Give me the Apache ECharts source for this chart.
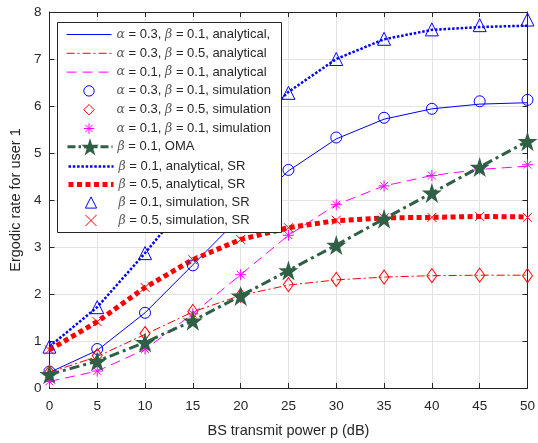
<!DOCTYPE html>
<html>
<head>
<meta charset="utf-8">
<script src="https://cdn.jsdelivr.net/npm/echarts@6/dist/echarts.min.js"></script>
<style>
  html, body { margin: 0; padding: 0; background: #fff; }
  #chart { width: 538px; height: 443px; }
</style>
</head>
<body>
<div id="chart"></div>
<script>
// x axis: BS transmit power (dB)
const powerDb = [0, 5, 10, 15, 20, 25, 30, 35, 40, 45, 50];

// alpha = 0.3, beta = 0.1
const a3b1Analytical = [0.33, 0.80, 1.60, 2.62, 3.65, 4.62, 5.30, 5.72, 5.94, 6.04, 6.07];
const a3b1Simulation = [0.35, 0.83, 1.60, 2.61, 3.66, 4.64, 5.33, 5.75, 5.94, 6.10, 6.13];
// alpha = 0.3, beta = 0.5
const a3b5Analytical = [0.33, 0.67, 1.14, 1.62, 1.97, 2.19, 2.30, 2.36, 2.39, 2.40, 2.40];
const a3b5Simulation = [0.33, 0.69, 1.16, 1.63, 1.97, 2.20, 2.31, 2.36, 2.39, 2.40, 2.39];
// alpha = 0.1, beta = 0.1
const a1b1Analytical = [0.14, 0.36, 0.82, 1.58, 2.41, 3.25, 3.90, 4.30, 4.52, 4.65, 4.72];
const a1b1Simulation = [0.14, 0.36, 0.83, 1.58, 2.41, 3.25, 3.90, 4.30, 4.52, 4.66, 4.75];
// OMA, beta = 0.1
const omaValues = [0.29, 0.57, 0.97, 1.43, 1.96, 2.50, 3.04, 3.60, 4.15, 4.70, 5.25];
// SR
const srB1Analytical = [0.88, 1.72, 2.87, 4.10, 5.30, 6.30, 7.00, 7.42, 7.62, 7.68, 7.71];
const srB1Simulation = [0.88, 1.72, 2.87, 4.10, 5.30, 6.28, 7.00, 7.43, 7.63, 7.72, 7.84];
const srB5Analytical = [0.81, 1.41, 2.14, 2.73, 3.16, 3.41, 3.56, 3.62, 3.63, 3.65, 3.64];
const srB5Simulation = [0.81, 1.41, 2.14, 2.73, 3.16, 3.41, 3.57, 3.62, 3.63, 3.65, 3.63];

const yTicks = [0, 1, 2, 3, 4, 5, 6, 7, 8];

const names = [
  'α = 0.3, β = 0.1, analytical,',
  'α = 0.3, β = 0.5, analytical',
  'α = 0.1, β = 0.1, analytical',
  'α = 0.3, β = 0.1, simulation',
  'α = 0.3, β = 0.5, simulation',
  'α = 0.1, β = 0.1, simulation',
  'β = 0.1, OMA',
  'β = 0.1, analytical, SR',
  'β = 0.5, analytical, SR',
  'β = 0.1, simulation, SR',
  'β = 0.5, simulation, SR'
];

const FONT = 'Liberation Sans';
const AXIS_COLOR = '#262626';

const starPath = 'path://M0,-1L0.2245,-0.309L0.951,-0.309L0.363,0.118L0.588,0.809L0,0.382L-0.588,0.809L-0.363,0.118L-0.951,-0.309L-0.2245,-0.309Z';
const asteriskPath = 'path://M0,-1L0,1M-1,0L1,0M-0.7,-0.7L0.7,0.7M-0.7,0.7L0.7,-0.7';
const crossPath = 'path://M-1,-1L1,1M-1,1L1,-1';

function pairs(values) {
  return powerDb.map((x, i) => [x, values[i]]);
}

// legend look for each entry, keyed by name
const legendLook = {};

function lineSeries(name, values, color, width, dash) {
  legendLook[name] = {
    itemStyle: { opacity: 0 },
    lineStyle: { color: color, width: width, type: dash }
  };
  return {
    name: name,
    type: 'line',
    data: pairs(values),
    symbol: 'none',
    lineStyle: { color: color, width: width, type: dash },
    itemStyle: { color: color },
    z: 2
  };
}

// markers only: a line series with an invisible line, so the legend icon is a small symbol
function markerSeries(name, values, color, symbol, size) {
  legendLook[name] = {
    itemStyle: { color: 'transparent', borderColor: color, borderWidth: 1 },
    lineStyle: { width: 0, opacity: 0 }
  };
  return {
    name: name,
    type: 'line',
    data: pairs(values),
    symbol: symbol,
    symbolSize: size,
    showSymbol: true,
    lineStyle: { width: 0, opacity: 0 },
    itemStyle: { color: 'transparent', borderColor: color, borderWidth: 1 },
    z: 3
  };
}

const series = [
  lineSeries(names[0], a3b1Analytical, '#0000ff', 1, 'solid'),
  lineSeries(names[1], a3b5Analytical, '#ff0000', 1, [8, 3, 2, 3]),
  lineSeries(names[2], a1b1Analytical, '#ff00ff', 1, [10, 6]),
  markerSeries(names[3], a3b1Simulation, '#0000ff', 'circle', 11),
  markerSeries(names[4], a3b5Simulation, '#ff0000', 'diamond', [10, 14]),
  markerSeries(names[5], a1b1Simulation, '#ff00ff', asteriskPath, 11),
  {
    name: names[6],
    type: 'line',
    data: pairs(omaValues),
    symbol: starPath,
    symbolSize: 20,
    showSymbol: true,
    lineStyle: { color: '#2f5f45', width: 3, type: [10, 4, 3, 4] },
    itemStyle: { color: '#2f5f45', borderWidth: 0 },
    z: 4
  },
  lineSeries(names[7], srB1Analytical, '#0000ff', 2.5, [2.5, 1.8]),
  lineSeries(names[8], srB5Analytical, '#ff0000', 5, [5, 3.5]),
  markerSeries(names[9], srB1Simulation, '#0000ff', 'triangle', 13),
  markerSeries(names[10], srB5Simulation, '#ff0000', crossPath, 9)
];
legendLook[names[6]] = {
  itemStyle: { color: '#2f5f45', borderWidth: 0 },
  lineStyle: { color: '#2f5f45', width: 3, type: [8, 3, 2.5, 3] }
};

const legendText = {
  color: AXIS_COLOR,
  fontFamily: FONT,
  fontSize: 13,
  rich: {
    g: { fontFamily: 'DejaVu Serif', fontStyle: 'italic', fontSize: 12.5, color: '#5a5a5a' }
  }
};

function legendBlock(list, top, itemHeight, itemGap) {
  return {
    data: list.map(n => Object.assign({ name: n }, legendLook[n])),
    orient: 'vertical',
    left: 57,
    top: top,
    padding: [0, 0, 0, 9],
    itemWidth: 45,
    itemHeight: itemHeight,
    itemGap: itemGap,
    selectedMode: false,
    z: 10,
    textStyle: legendText,
    formatter: name => name.replace(/([αβ])/g, '{g|$1}')
  };
}

const chart = echarts.init(document.getElementById('chart'), null, { renderer: 'canvas' });

chart.setOption({
  backgroundColor: '#ffffff',
  animation: false,
  textStyle: { fontFamily: FONT },
  grid: { left: 46, right: 8, top: 12, bottom: 49, containLabel: false },
  graphic: [{
    type: 'rect',
    left: 57,
    top: 22,
    z: 9,
    shape: { width: 224, height: 210 },
    style: { fill: '#ffffff', stroke: AXIS_COLOR, lineWidth: 1 }
  }],
  legend: [
    legendBlock(names.slice(0, 6), 28, 13, 5.8),
    legendBlock(names.slice(6, 7), 138, 22, 0),
    legendBlock(names.slice(7), 160, 14, 5.0)
  ],
  xAxis: [
    {
      type: 'value',
      min: 0,
      max: 50,
      interval: 5,
      name: 'BS transmit power p (dB)',
      nameLocation: 'middle',
      nameGap: 35,
      nameTextStyle: { color: AXIS_COLOR, fontSize: 14.5, fontFamily: FONT },
      axisLine: { show: true, onZero: false, lineStyle: { color: AXIS_COLOR, width: 1 } },
      axisTick: { show: true, inside: true, length: 5, lineStyle: { color: AXIS_COLOR } },
      axisLabel: { color: AXIS_COLOR, fontSize: 13.5, margin: 11, fontFamily: FONT },
      splitLine: { show: true, lineStyle: { color: '#e3e3e3', width: 1 } }
    },
    {
      type: 'value',
      position: 'top',
      min: 0,
      max: 50,
      interval: 5,
      axisLine: { show: true, onZero: false, lineStyle: { color: AXIS_COLOR, width: 1 } },
      axisTick: { show: true, inside: true, length: 5, lineStyle: { color: AXIS_COLOR } },
      axisLabel: { show: false },
      splitLine: { show: false }
    }
  ],
  yAxis: [
    {
      type: 'value',
      min: yTicks[0],
      max: yTicks[yTicks.length - 1],
      interval: 1,
      name: 'Ergodic rate for user 1',
      nameLocation: 'middle',
      nameGap: 23,
      nameTextStyle: { color: AXIS_COLOR, fontSize: 14.5, fontFamily: FONT },
      axisLine: { show: true, onZero: false, lineStyle: { color: AXIS_COLOR, width: 1 } },
      axisTick: { show: true, inside: true, length: 5, lineStyle: { color: AXIS_COLOR } },
      axisLabel: { color: AXIS_COLOR, fontSize: 13.5, margin: 8, fontFamily: FONT },
      splitLine: { show: true, lineStyle: { color: '#e3e3e3', width: 1 } }
    },
    {
      type: 'value',
      position: 'right',
      min: yTicks[0],
      max: yTicks[yTicks.length - 1],
      interval: 1,
      axisLine: { show: true, onZero: false, lineStyle: { color: AXIS_COLOR, width: 1 } },
      axisTick: { show: true, inside: true, length: 5, lineStyle: { color: AXIS_COLOR } },
      axisLabel: { show: false },
      splitLine: { show: false }
    }
  ],
  series: series
});
</script>
</body>
</html>
